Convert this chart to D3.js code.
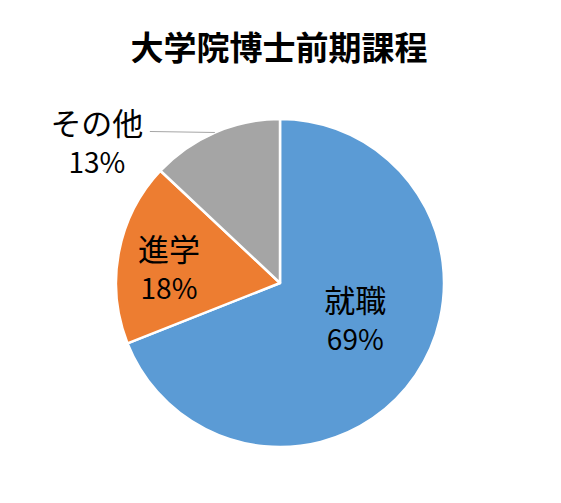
<!DOCTYPE html>
<html>
<head>
<meta charset="utf-8">
<script src="https://cdn.jsdelivr.net/npm/d3@7"></script>
<style>
  body { margin: 0; background: #fff; }
  svg text { font-family: "Noto Sans CJK JP", sans-serif; }
</style>
</head>
<body>
<div id="chart"></div>
<script>
// data
const title = "大学院博士前期課程";
const categories = ["就職", "進学", "その他"];
const values = [69, 18, 13];
const colors = ["#5B9BD5", "#ED7D31", "#A5A5A5"];

const width = 561, height = 503;
const cx = 280, cy = 283, radius = 164;

const svg = d3.select("#chart").append("svg")
  .attr("width", width)
  .attr("height", height);

svg.append("text")
  .attr("x", 279)
  .attr("y", 60)
  .attr("text-anchor", "middle")
  .attr("font-size", "33px")
  .attr("font-weight", "bold")
  .text(title);

const pie = d3.pie().sort(null).value(d => d)(values);
const arc = d3.arc().innerRadius(0).outerRadius(radius);

const g = svg.append("g").attr("transform", `translate(${cx},${cy})`);

g.selectAll("path")
  .data(pie)
  .enter()
  .append("path")
  .attr("d", arc)
  .attr("fill", (d, i) => colors[i])
  .attr("stroke", "#fff")
  .attr("stroke-width", 2.5)
  .attr("stroke-linejoin", "round");

// label placement: inside labels on a centroid ring, last one outside with a leader
const labelRadius = [85, 113];
const nudge = [[5, -14], [0, 4]];

pie.forEach((d, i) => {
  let x, y;
  if (i < 2) {
    const c = d3.arc().innerRadius(labelRadius[i]).outerRadius(labelRadius[i]).centroid(d);
    x = c[0] + nudge[i][0];
    y = c[1] + nudge[i][1];
  } else {
    const mid = (d.startAngle + d.endAngle) / 2;
    const ex = Math.sin(mid) * radius, ey = -Math.cos(mid) * radius;
    const lx = ex - 65;
    g.append("line")
      .attr("x1", ex).attr("y1", ey)
      .attr("x2", lx).attr("y2", ey - 1)
      .attr("stroke", "#A6A6A6")
      .attr("stroke-width", 1);
    x = lx - 53;
    y = ey + 7;
  }
  const t = g.append("text")
    .attr("text-anchor", "middle")
    .attr("fill", "#000");
  t.append("tspan").attr("x", x).attr("y", y - 5).attr("font-size", "31px").text(categories[i]);
  t.append("tspan").attr("x", x).attr("y", y + 33).attr("font-size", "28px").text(values[i] + "%");
});
</script>
</body>
</html>
